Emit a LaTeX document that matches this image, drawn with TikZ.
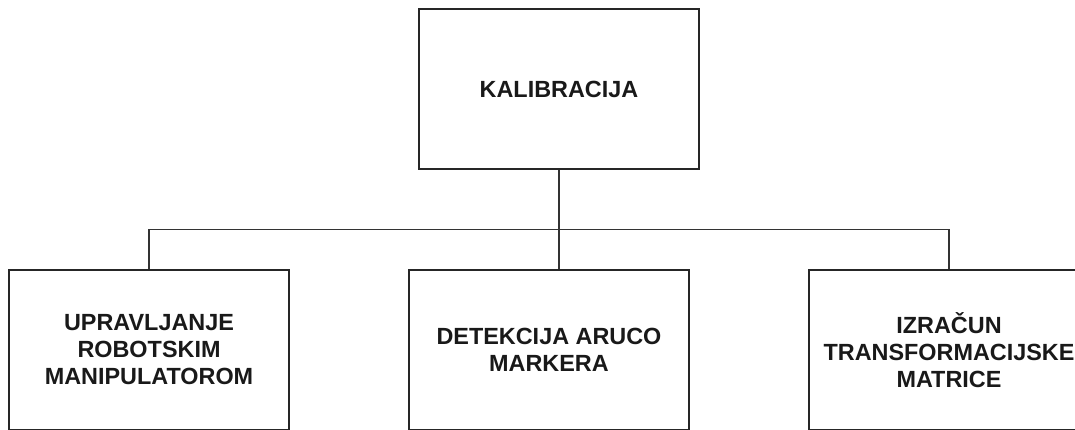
\documentclass[tikz,border=0pt]{standalone}
\usepackage{fontspec}
\setmainfont{Liberation Sans}
\usetikzlibrary{calc}
\begin{document}
\begin{tikzpicture}[x=1pt,y=-1pt,
  box/.style={draw=black!85, line width=1.3pt, minimum width=280pt, minimum height=160pt,
    inner sep=0pt, align=center, font=\fontsize{23.4pt}{27pt}\selectfont\bfseries, text=black!90},
  conn/.style={draw=black!80, line width=1.3pt}]
\useasboundingbox (0,0) rectangle (1075,429);
\node[box] (top) at (559,89) {KALIBRACIJA};
\node[box] (left) at (149,350) {UPRAVLJANJE\\ROBOTSKIM\\MANIPULATOROM};
\node[box] (mid) at (549,350) {DETEKCIJA ARUCO\\MARKERA};
\node[box] (right) at (949,350) {IZRAČUN\\TRANSFORMACIJSKE\\MATRICE};
\coordinate (bus) at ($(top.south)+(0,60)$);
\draw[conn] (top.south) -- (top.south |- mid.north);
\draw[conn] (bus) -| (left.north);
\draw[conn] (bus) -| (right.north);
\end{tikzpicture}
\end{document}
